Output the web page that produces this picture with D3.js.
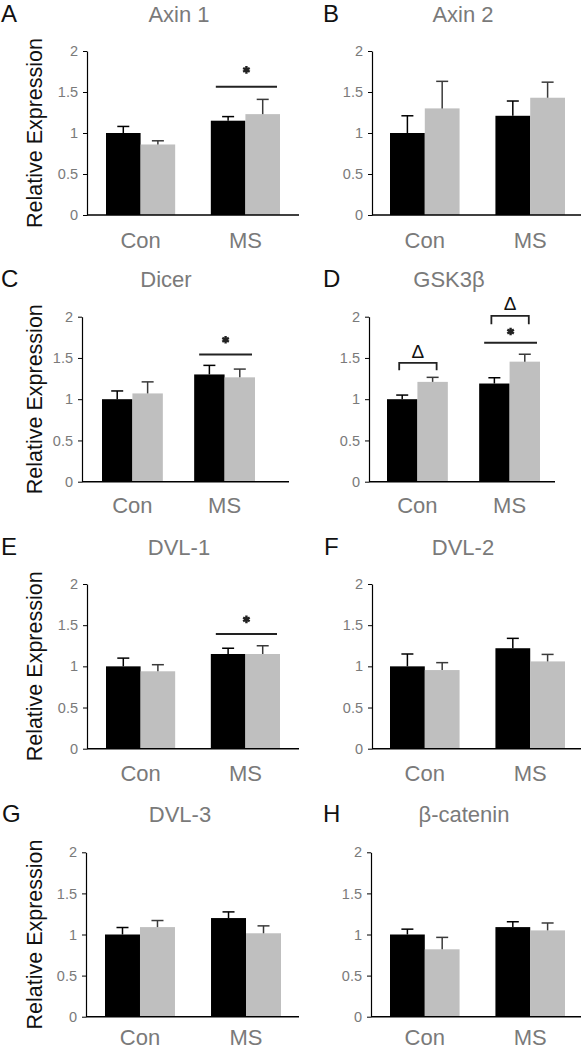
<!DOCTYPE html>
<html><head><meta charset="utf-8">
<script src="https://cdn.jsdelivr.net/npm/d3@7"></script>
<style>body{margin:0;background:#fff} svg{display:block}</style>
</head><body>
<svg id="chart" width="584" height="1050"></svg>
<script>
// ---------- data ----------
const panelLetters = ["A","B","C","D","E","F","G","H"];
const genes = ["Axin 1","Axin 2","Dicer","GSK3β","DVL-1","DVL-2","DVL-3","β-catenin"];
const categories = ["Con","MS"];
const seriesNames = ["black","grey"];
const tickValues = [0, 0.5, 1, 1.5, 2];
const tickLabels = ["0","0.5","1","1.5","2"];
const yLabel = "Relative Expression";
// means [Con, MS]
const blackMean = [[1.00,1.15],[1.00,1.21],[1.00,1.30],[1.00,1.19],[1.00,1.15],[1.00,1.22],[1.00,1.20],[1.00,1.09]];
const blackErr  = [[0.08,0.05],[0.21,0.18],[0.10,0.11],[0.05,0.07],[0.10,0.07],[0.15,0.12],[0.085,0.075],[0.065,0.065]];
const greyMean  = [[0.86,1.23],[1.30,1.43],[1.07,1.265],[1.21,1.455],[0.94,1.15],[0.955,1.06],[1.09,1.015],[0.82,1.05]];
const greyErr   = [[0.045,0.18],[0.33,0.19],[0.14,0.10],[0.055,0.09],[0.08,0.10],[0.09,0.085],[0.08,0.09],[0.145,0.09]];
// significance (line + star) over a group
const sigPanel = [0, 2, 3, 4];
const sigGroup = ["MS","MS","MS","MS"];
const sigLineY = [1.565, 1.543, 1.685, 1.393];
const sigStarY = [1.77, 1.72, 1.82, 1.57];
// delta brackets
const deltaPanel = [3, 3];
const deltaGroup = ["Con","MS"];
const deltaTop = [1.44, 2.01];
const deltaLeg = [1.35, 1.907];
const deltaLabelY = [1.58, 2.17];

// ---------- layout (positions only) ----------
const layout = [
  {ax:87,  end:299, b0:106, b1:280, y0:215,   y2:51,    tx:179, tb:22,  lx:1,   lb:22,  cb:248},
  {ax:372, end:581, b0:390, b1:565, y0:215,   y2:51,    tx:463, tb:22,  lx:323, lb:22,  cb:248},
  {ax:82,  end:289, b0:102, b1:255, y0:481.7, y2:316.7, tx:166, tb:287, lx:1,   lb:287, cb:513},
  {ax:369, end:555, b0:387, b1:540, y0:481.7, y2:316.7, tx:449, tb:287, lx:323, lb:287, cb:513},
  {ax:87,  end:299, b0:106, b1:280, y0:748.7, y2:584,   tx:179, tb:555, lx:1,   lb:555, cb:781},
  {ax:372, end:581, b0:390, b1:565, y0:748.7, y2:584,   tx:463, tb:555, lx:324, lb:555, cb:781},
  {ax:86,  end:299, b0:105, b1:281, y0:1016.7,y2:852.3, tx:180, tb:822, lx:2,   lb:822, cb:1045},
  {ax:371, end:581, b0:390, b1:565, y0:1016.7,y2:852.3, tx:464, tb:822, lx:323, lb:822, cb:1045}
];
const FONT = "'Liberation Sans', Arial, sans-serif";
const colors = {black:"#000000", grey:"#bfbfbf"};
const errColors = {black:"#000000", grey:"#3a3a3a"};
const textGrey = "#7a7a7a";

const svg = d3.select("#chart");

genes.forEach((gene, i) => {
  const L = layout[i];
  const g = svg.append("g");
  const y = d3.scaleLinear().domain([0, 2]).range([L.y0, L.y2]);
  const x = d3.scaleBand().domain(categories).range([L.b0, L.b1]).paddingInner(0.34).paddingOuter(0);
  const xs = d3.scaleBand().domain(seriesNames).range([0, x.bandwidth()]);

  // y axis
  const yAxis = d3.axisLeft(y).tickValues(tickValues)
    .tickFormat((d, k) => tickLabels[k]).tickSizeInner(4).tickSizeOuter(0).tickPadding(5);
  const ya = g.append("g").attr("transform", `translate(${L.ax},0)`).call(yAxis);
  ya.select(".domain").attr("stroke", "#000").attr("stroke-width", 1.2);
  ya.selectAll(".tick line").attr("stroke", "#000").attr("stroke-width", 1);
  ya.selectAll(".tick text").attr("font-family", FONT).attr("font-size", 14.5).attr("fill", textGrey);

  // bars
  const rows = [];
  categories.forEach((c, ci) => {
    rows.push({cat:c, s:"black", v:blackMean[i][ci], e:blackErr[i][ci]});
    rows.push({cat:c, s:"grey", v:greyMean[i][ci], e:greyErr[i][ci]});
  });
  g.selectAll("rect.bar").data(rows).join("rect").attr("class","bar")
    .attr("x", d => x(d.cat) + xs(d.s))
    .attr("width", xs.bandwidth())
    .attr("y", d => y(d.v))
    .attr("height", d => y(0) - y(d.v))
    .attr("fill", d => colors[d.s]);

  // error bars (upper only)
  const cap = 6;
  rows.forEach(d => {
    const cx = x(d.cat) + xs(d.s) + xs.bandwidth() / 2;
    g.append("line").attr("x1", cx).attr("x2", cx)
      .attr("y1", y(d.v)).attr("y2", y(d.v + d.e))
      .attr("stroke", errColors[d.s]).attr("stroke-width", 1.5);
    g.append("line").attr("x1", cx - cap).attr("x2", cx + cap)
      .attr("y1", y(d.v + d.e)).attr("y2", y(d.v + d.e))
      .attr("stroke", errColors[d.s]).attr("stroke-width", 1.5);
  });

  // x axis baseline
  g.append("line").attr("x1", L.ax).attr("x2", L.end).attr("y1", y(0)).attr("y2", y(0))
    .attr("stroke", "#000").attr("stroke-width", 1.5);

  // category labels
  g.selectAll("text.cat").data(categories).join("text").attr("class","cat")
    .attr("x", d => x(d) + x.bandwidth() / 2).attr("y", L.cb)
    .attr("text-anchor", "middle").attr("font-family", FONT).attr("font-size", 22)
    .attr("fill", textGrey).text(d => d);

  // title
  g.append("text").attr("x", L.tx).attr("y", L.tb).attr("text-anchor", "middle")
    .attr("font-family", FONT).attr("font-size", 22).attr("fill", textGrey).text(gene);

  // panel letter
  g.append("text").attr("x", L.lx).attr("y", L.lb)
    .attr("font-family", FONT).attr("font-size", 24).attr("fill", "#111").text(panelLetters[i]);

  // y label (left column only)
  if (i % 2 === 0) {
    g.append("text")
      .attr("transform", `translate(42,${(L.y0 + L.y2) / 2}) rotate(-90)`)
      .attr("text-anchor", "middle").attr("font-family", FONT).attr("font-size", 21.5)
      .attr("fill", "#111").text(yLabel);
  }

  // significance lines
  sigPanel.forEach((p, k) => {
    if (p !== i) return;
    const gx0 = x(sigGroup[k]) + 5, gx1 = x(sigGroup[k]) + x.bandwidth() - 3;
    g.append("line").attr("x1", gx0).attr("x2", gx1)
      .attr("y1", y(sigLineY[k])).attr("y2", y(sigLineY[k]))
      .attr("stroke", "#222").attr("stroke-width", 2);
    g.append("path").attr("d", d3.symbol(d3.symbolAsterisk, 40)())
      .attr("transform", `translate(${(gx0 + gx1) / 2},${y(sigStarY[k])})`)
      .attr("stroke", "#222").attr("stroke-width", 2.4).attr("fill", "none");
  });

  // delta brackets
  deltaPanel.forEach((p, k) => {
    if (p !== i) return;
    const bx0 = x(deltaGroup[k]) + xs("black") + xs.bandwidth() / 2 - 3;
    const bx1 = x(deltaGroup[k]) + xs("grey") + xs.bandwidth() / 2 + 4;
    g.append("path")
      .attr("d", `M${bx0},${y(deltaLeg[k])}V${y(deltaTop[k])}H${bx1}V${y(deltaLeg[k])}`)
      .attr("fill", "none").attr("stroke", "#222").attr("stroke-width", 1.8);
    g.append("text").attr("x", (bx0 + bx1) / 2).attr("y", y(deltaLabelY[k]))
      .attr("dy", "0.36em").attr("text-anchor", "middle")
      .attr("font-family", FONT).attr("font-size", 19).attr("fill", "#111").text("Δ");
  });
});
</script>
</body></html>
